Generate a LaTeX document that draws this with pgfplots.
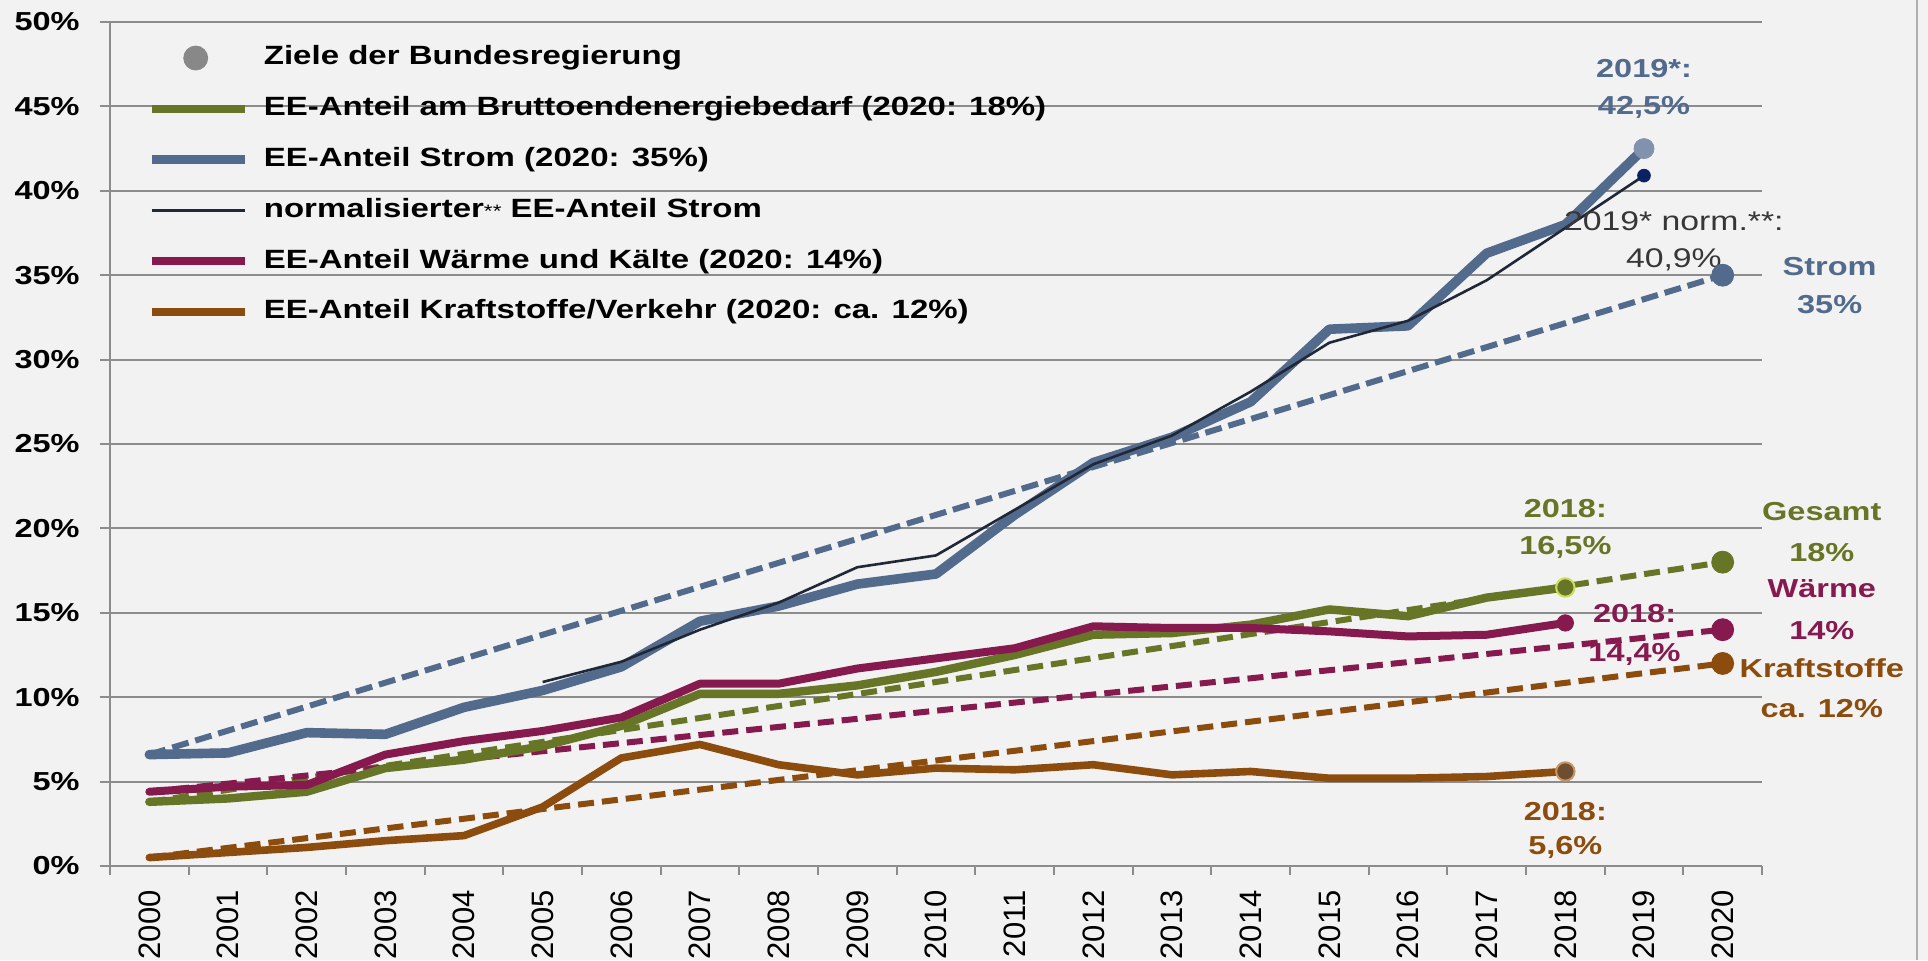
\documentclass[border=0pt]{standalone}
\usepackage{fontspec}
\setmainfont{Liberation Sans}
\newfontfamily\wide{Liberation Sans}[FakeStretch=1.25]
\usepackage{pgfplots}
\pgfplotsset{compat=1.18}
\definecolor{bg}{HTML}{F2F2F2}
\definecolor{cgreen}{RGB}{103,117,38}
\definecolor{cgreenring}{RGB}{205,220,90}
\definecolor{cblue}{RGB}{82,106,140}
\definecolor{cbluelight}{RGB}{128,146,174}
\definecolor{cnorm}{RGB}{32,40,56}
\definecolor{cnormdot}{RGB}{10,34,100}
\definecolor{cwarm}{RGB}{134,26,78}
\definecolor{ckraft}{RGB}{139,76,14}
\definecolor{ckraftdot}{RGB}{110,78,48}
\definecolor{ckraftring}{RGB}{200,150,100}
\definecolor{cgrid}{RGB}{140,140,140}
\definecolor{cziel}{RGB}{136,136,136}
\definecolor{cframe}{RGB}{175,175,175}
\definecolor{cnormtxt}{RGB}{55,55,55}
\begin{document}
\begin{tikzpicture}
\fill[bg] (-55pt,-47pt) rectangle (909pt,433pt);
\useasboundingbox (-55pt,-47pt) rectangle (909pt,433pt);
\begin{axis}[
  scale only axis, width=826pt, height=422pt,
  at={(0pt,0pt)}, anchor=south west,
  xmin=-0.5, xmax=20.5, ymin=0, ymax=50,
  clip=false,
  axis lines=left,
  every non boxed x axis/.append style={x axis line style=-},
  every non boxed y axis/.append style={y axis line style=-},
  x axis line style={-}, y axis line style={-},
  axis line style={draw=cgrid, line width=1pt},
  xtick={0,1,2,3,4,5,6,7,8,9,10,11,12,13,14,15,16,17,18,19,20},
  xticklabels={2000,2001,2002,2003,2004,2005,2006,2007,2008,2009,2010,2011,2012,2013,2014,2015,2016,2017,2018,2019,2020},
  minor xtick={-0.5,0.5,...,20.5},
  ytick={0,5,...,50},
  yticklabels={0\%,5\%,10\%,15\%,20\%,25\%,30\%,35\%,40\%,45\%,50\%},
  tick align=outside,
  major tick length=5pt,
  minor tick length=4.5pt,
  tick style={draw=cgrid, line width=1pt},
  every major x tick/.style={draw=none},
  ymajorgrids, grid style={draw=cgrid, line width=1pt},
  yticklabel style={font=\wide\bfseries\fontsize{13}{15}\selectfont, anchor=east, inner sep=0pt, xshift=-10pt},
  xticklabel style={font=\fontsize{15.5}{17}\selectfont, yshift=-7pt, rotate=90, anchor=east, inner sep=0pt},
  legend style={at={(0.0227,0.972)}, anchor=north west, draw=none, fill=none, inner sep=0pt, outer sep=0pt,
    row sep=13pt, column sep=7.5pt, font=\wide\bfseries\fontsize{13.2}{15}\selectfont,
    nodes={inner sep=0pt, text height=9.6pt, text depth=2.8pt}},
  legend cell align=left,
  legend image code/.code={\draw[#1] (0pt,0pt) -- (46.5pt,0pt);},
]
% legend entries
\addlegendimage{legend image code/.code={\fill[cziel] (22pt,0pt) circle (6pt);}}
\addlegendentry{Ziele der Bundesregierung}
\addlegendimage{cgreen, line width=4.2pt}
\addlegendentry{EE-Anteil am Bruttoendenergiebedarf (2020: 18\%)}
\addlegendimage{cblue, line width=4.2pt}
\addlegendentry{EE-Anteil Strom (2020: 35\%)}
\addlegendimage{cnorm, line width=1.4pt}
\addlegendentry{normalisierter{\fontsize{9}{9}\selectfont\mdseries**} EE-Anteil Strom}
\addlegendimage{cwarm, line width=4.2pt}
\addlegendentry{EE-Anteil Wärme und Kälte (2020: 14\%)}
\addlegendimage{ckraft, line width=4.2pt}
\addlegendentry{EE-Anteil Kraftstoffe/Verkehr (2020: ca. 12\%)}

% target paths (dashed)
\addplot[forget plot, cblue, line width=3pt, dash pattern=on 8.5pt off 3.5pt] coordinates {(0,6.6) (20,35)};
\addplot[forget plot, cgreen, line width=3pt, dash pattern=on 8pt off 4pt] coordinates {(0,3.8) (20,18)};
\addplot[forget plot, cwarm, line width=3pt, dash pattern=on 8pt off 4pt] coordinates {(0,4.4) (20,14)};
\addplot[forget plot, ckraft, line width=3pt, dash pattern=on 8pt off 4pt] coordinates {(0,0.5) (20,12)};

% actual series
\addplot[forget plot, ckraft, line width=3.8pt, line join=round, line cap=round] coordinates {
(0,0.5)(1,0.8)(2,1.1)(3,1.5)(4,1.8)(5,3.5)(6,6.4)(7,7.2)(8,6.0)(9,5.4)(10,5.8)(11,5.7)(12,6.0)(13,5.4)(14,5.6)(15,5.2)(16,5.2)(17,5.3)(18,5.6)};
\addplot[forget plot, cgreen, line width=4.2pt, line join=round, line cap=round] coordinates {
(0,3.8)(1,4.0)(2,4.4)(3,5.8)(4,6.3)(5,7.1)(6,8.3)(7,10.2)(8,10.2)(9,10.7)(10,11.5)(11,12.5)(12,13.7)(13,13.8)(14,14.3)(15,15.2)(16,14.8)(17,15.9)(18,16.5)};
\addplot[forget plot, cwarm, line width=4pt, line join=round, line cap=round] coordinates {
(0,4.4)(1,4.7)(2,4.8)(3,6.6)(4,7.4)(5,8.0)(6,8.8)(7,10.8)(8,10.8)(9,11.7)(10,12.3)(11,12.9)(12,14.2)(13,14.1)(14,14.1)(15,13.9)(16,13.6)(17,13.7)(18,14.4)};
\addplot[forget plot, cblue, line width=4.8pt, line join=round, line cap=round] coordinates {
(0,6.6)(1,6.7)(2,7.9)(3,7.8)(4,9.4)(5,10.4)(6,11.8)(7,14.5)(8,15.4)(9,16.7)(10,17.3)(11,20.8)(12,23.9)(13,25.4)(14,27.5)(15,31.8)(16,32.0)(17,36.3)(18,38.0)(19,42.5)};
\addplot[forget plot, cnorm, line width=1.3pt, line join=round] coordinates {
(5,10.9)(6,12.1)(7,14.0)(8,15.6)(9,17.7)(10,18.4)(11,21.1)(12,23.8)(13,25.5)(14,28.1)(15,31.0)(16,32.3)(17,34.7)(18,37.8)(19,40.9)};

% end markers
\addplot[forget plot, only marks, mark=*, mark size=5pt, mark options={fill=cbluelight, draw=cbluelight}] coordinates {(19,42.5)};
\addplot[forget plot, only marks, mark=*, mark size=3.2pt, mark options={fill=cnormdot, draw=cnormdot}] coordinates {(19,40.9)};
\addplot[forget plot, only marks, mark=*, mark size=4.6pt, mark options={fill=cgreen, draw=cgreenring, line width=1pt}] coordinates {(18,16.5)};
\addplot[forget plot, only marks, mark=*, mark size=4.1pt, mark options={fill=cwarm, draw=cwarm}] coordinates {(18,14.4)};
\addplot[forget plot, only marks, mark=*, mark size=4.6pt, mark options={fill=ckraftdot, draw=ckraftring, line width=1pt}] coordinates {(18,5.6)};

% targets 2020
\addplot[forget plot, only marks, mark=*, mark size=5.5pt, mark options={fill=cblue, draw=cblue}] coordinates {(20,35)};
\addplot[forget plot, only marks, mark=*, mark size=5.5pt, mark options={fill=cgreen, draw=cgreen}] coordinates {(20,18)};
\addplot[forget plot, only marks, mark=*, mark size=5.5pt, mark options={fill=cwarm, draw=cwarm}] coordinates {(20,14)};
\addplot[forget plot, only marks, mark=*, mark size=5.5pt, mark options={fill=ckraft, draw=ckraft}] coordinates {(20,12)};

% annotations
\node[text=cblue, align=center, font=\wide\bfseries\fontsize{13}{18.5}\selectfont] at (axis cs:19,46.06) {2019*:\\42,5\%};
\node[text=cnormtxt, align=center, font=\wide\fontsize{13.5}{18.5}\selectfont] at (axis cs:19.38,37.0) {2019* norm.**:\\40,9\%};
\node[text=cblue, align=center, font=\wide\bfseries\fontsize{13}{19}\selectfont] at (axis cs:21.36,34.36) {Strom\\35\%};
\node[text=cgreen, align=center, font=\wide\bfseries\fontsize{13}{18.5}\selectfont] at (axis cs:18,19.99) {2018:\\16,5\%};
\node[text=cgreen, align=center, font=\wide\bfseries\fontsize{13}{20.5}\selectfont] at (axis cs:21.26,19.76) {Gesamt\\18\%};
\node[text=cwarm, align=center, font=\wide\bfseries\fontsize{13}{21}\selectfont] at (axis cs:21.26,15.17) {Wärme\\14\%};
\node[text=ckraft, align=center, font=\wide\bfseries\fontsize{13}{20}\selectfont] at (axis cs:21.26,10.55) {Kraftstoffe\\ca. 12\%};
\node[text=cwarm, align=center, font=\wide\bfseries\fontsize{13}{19.5}\selectfont] at (axis cs:18.88,13.7) {2018:\\14,4\%};
\node[text=ckraft, align=center, font=\wide\bfseries\fontsize{13}{17}\selectfont] at (axis cs:18,2.13) {2018:\\5,6\%};
\end{axis}
\draw[cframe, line width=1pt] (903.5pt,-47pt) -- (903.5pt,433pt);
\end{tikzpicture}
\end{document}
